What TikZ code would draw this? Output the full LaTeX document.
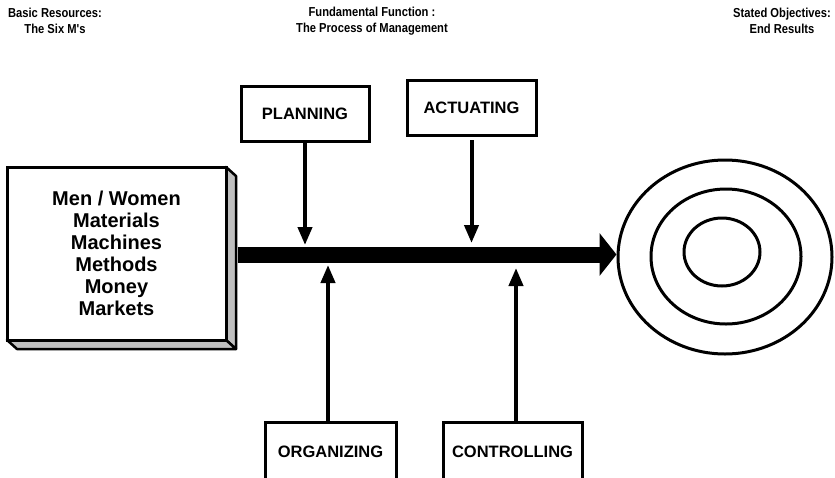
\documentclass[tikz,border=0pt]{standalone}
\usepackage{fontspec}
\setmainfont{Liberation Sans}
\newfontfamily\headfont[FakeStretch=0.86]{Liberation Sans}
\usetikzlibrary{arrows.meta,shapes.geometric}
\tikzset{
  x=1pt, y=-1pt,
  heading/.style={font=\headfont\bfseries\fontsize{13}{16}\selectfont, align=center},
  procbox/.style={draw, line width=3pt, rectangle, inner sep=0pt, fill=white,
    font=\bfseries\fontsize{16.5}{19}\selectfont},
  feed/.style={line width=4pt, -{Triangle[length=18pt,width=14pt]}},
  ring/.style={draw, ellipse, line width=3pt, inner sep=0pt},
  sideface/.style={fill=black!25, draw, line width=2.5pt, line join=round},
}
\begin{document}
\begin{tikzpicture}
\useasboundingbox (0,0) rectangle (835,477);
\clip (0,0) rectangle (835,477);

% column headings
\node[heading] (h1) at (55,21)  {Basic Resources:\\The Six M's};
\node[heading] (h2) at (372,21) {Fundamental Function :\\The Process of Management};
\node[heading] (h3) at (782,21) {Stated Objectives:\\End Results};

% resources block with bevelled edge
\draw[sideface] (226,167) -- (236,176) -- (236,349) -- (226,340) -- cycle;
\draw[sideface] (7,340) -- (226,340) -- (236,349) -- (17,349) -- cycle;
\node[draw, line width=3pt, fill=white, minimum width=219pt, minimum height=173pt,
      inner sep=0pt, align=center, font=\bfseries\fontsize{20}{22}\selectfont]
  (res) at (116.5,253.5) {Men / Women\\Materials\\Machines\\Methods\\Money\\Markets};

% target rings
\node[ring, minimum width=214pt, minimum height=194pt] (outer) at (725,257) {};
\node[ring, minimum width=150pt, minimum height=135pt] (mid) at (726,256.5) {};
\node[ring, minimum width=76pt, minimum height=68pt] (inner) at (722,252) {};

% main flow
\draw[line width=16pt, -{Triangle[length=17pt,width=42pt]}]
  ([xshift=10pt]res.east |- 0,254.5) -- (outer.west |- 0,254.5);

% management functions
\node[procbox, minimum width=128pt, minimum height=55pt] (plan) at (305,113.5) {PLANNING};
\node[procbox, minimum width=129pt, minimum height=55pt] (act) at (471.5,107.5) {ACTUATING};
\node[procbox, minimum width=131pt, minimum height=66pt] (org) at (330.5,455) {\raisebox{6pt}{ORGANIZING}};
\node[procbox, minimum width=139pt, minimum height=66pt] (ctrl) at (512.5,455) {\raisebox{6pt}{CONTROLLING}};

\coordinate (planhit) at (305,245);
\coordinate (acthit) at (471.5,243);
\coordinate (orghit) at (328,265);
\coordinate (ctrlhit) at (516,268);

\draw[feed] (plan.south) -- (planhit);
\draw[feed] (act.south |- 0,140) -- (acthit);
\draw[feed] (org.north -| orghit) -- (orghit);
\draw[feed] (ctrl.north -| ctrlhit) -- (ctrlhit);
\end{tikzpicture}
\end{document}
